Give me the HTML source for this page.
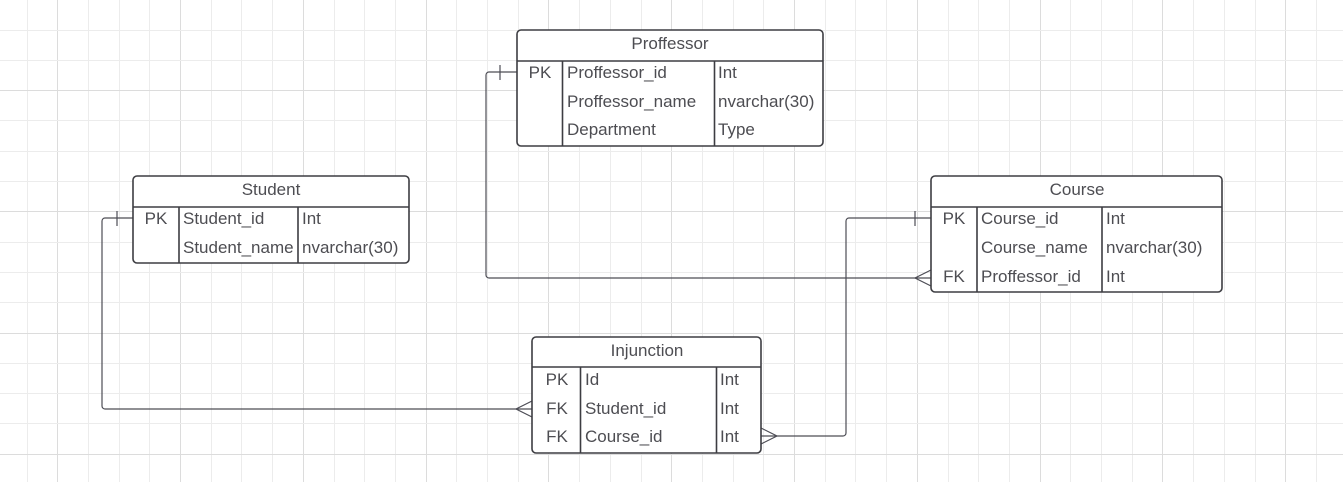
<!DOCTYPE html>
<html><head><style>
html,body{margin:0;padding:0;background:#fff;}
svg{display:block;}
text{font-family:"Liberation Sans",Arial,sans-serif;font-size:17px;fill:#4d4d52;}
</style></head><body>
<svg id="s" width="1343" height="482" viewBox="0 0 1343 482">
<g id="grid"></g>

<g fill="none" stroke="#4d4d55" stroke-width="1.2">
<path d="M517 72H489a3 3 0 0 0-3 3V275a3 3 0 0 0 3 3H931"/>
<path d="M500 65V80"/>
<path d="M931 270L915 278L931 286"/>
<path d="M133 218H105a3 3 0 0 0-3 3V406a3 3 0 0 0 3 3H532"/>
<path d="M117 211V226"/>
<path d="M532 401L516 409L532 417"/>
<path d="M931 218H849a3 3 0 0 0-3 3V433a3 3 0 0 1-3 3H761"/>
<path d="M915 211V226"/>
<path d="M761 428L777 436L761 444"/>
</g>

<g fill="#fff" stroke="#3d3d42" stroke-width="1.6">
<rect x="517" y="30" width="306" height="116" rx="4"/>
<rect x="133" y="176" width="276" height="87" rx="4"/>
<rect x="931" y="176" width="291" height="116" rx="4"/>
<rect x="532" y="337" width="229" height="116" rx="4"/>
</g>
<g stroke="#3d3d42" stroke-width="1.6">
<path d="M517 61H823M562.5 61V146M714.5 61V146"/>
<path d="M133 207H409M179 207V263M298 207V263"/>
<path d="M931 207H1222M977 207V292M1102 207V292"/>
<path d="M532 367H761M580.5 367V453M716.5 367V453"/>
</g>

<text x="670" y="49" text-anchor="middle">Proffessor</text>
<text x="540" y="78" text-anchor="middle">PK</text>
<text x="567" y="78">Proffessor_id</text><text x="718" y="78">Int</text>
<text x="567" y="107">Proffessor_name</text><text x="718" y="107">nvarchar(30)</text>
<text x="567" y="135">Department</text><text x="718" y="135">Type</text>

<text x="271" y="195" text-anchor="middle">Student</text>
<text x="156" y="224" text-anchor="middle">PK</text>
<text x="183" y="224">Student_id</text><text x="302" y="224">Int</text>
<text x="183" y="253">Student_name</text><text x="302" y="253">nvarchar(30)</text>

<text x="1077" y="195" text-anchor="middle">Course</text>
<text x="954" y="224" text-anchor="middle">PK</text>
<text x="981" y="224">Course_id</text><text x="1106" y="224">Int</text>
<text x="981" y="253">Course_name</text><text x="1106" y="253">nvarchar(30)</text>
<text x="954" y="282" text-anchor="middle">FK</text>
<text x="981" y="282">Proffessor_id</text><text x="1106" y="282">Int</text>

<text x="647" y="356" text-anchor="middle">Injunction</text>
<text x="557" y="385" text-anchor="middle">PK</text>
<text x="585" y="385">Id</text><text x="720" y="385">Int</text>
<text x="557" y="414" text-anchor="middle">FK</text>
<text x="585" y="414">Student_id</text><text x="720" y="414">Int</text>
<text x="557" y="442" text-anchor="middle">FK</text>
<text x="585" y="442">Course_id</text><text x="720" y="442">Int</text>
</svg>
<script>
(function(){
var g=document.getElementById('grid'),ns='http://www.w3.org/2000/svg',h='';
var sx=30.7,sy=30.3;
for(var i=-1;i<50;i++){var x=Math.round(26.5+(i)*sx)+0.5;if(x<0||x>1343)continue;
var major=((i-1)%4+4)%4==0;h+='<line x1="'+x+'" y1="0" x2="'+x+'" y2="482" stroke="'+(major?'#dcdcdc':'#ececec')+'"/>';}
for(var j=-1;j<20;j++){var y=Math.round(29.5+j*sy)+0.5;if(y<0||y>482)continue;
var majorY=((j-2)%4+4)%4==0;h+='<line x1="0" y1="'+y+'" x2="1343" y2="'+y+'" stroke="'+(majorY?'#dcdcdc':'#ececec')+'"/>';}
g.innerHTML=h;
})();
</script>
</body></html>
